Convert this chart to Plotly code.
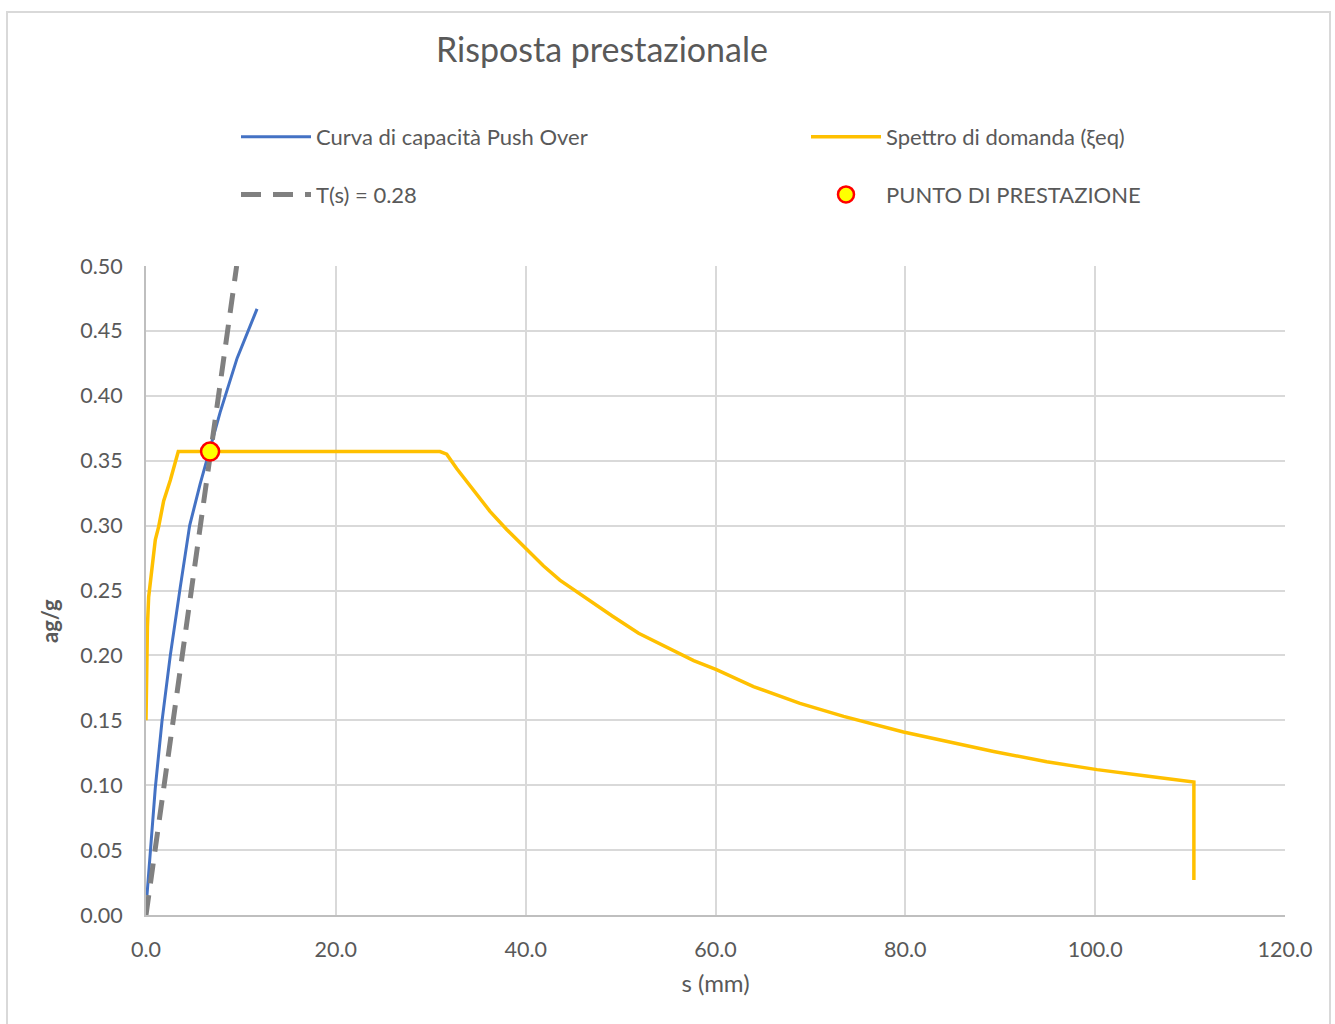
import plotly.graph_objects as go

# Capacity curve (push-over), displacement in mm vs spectral acceleration ag/g
cap_s = [0.1, 0.98, 1.68, 2.56, 3.6, 4.6, 5.7, 6.77, 7.8, 9.6, 11.7]
cap_a = [0.015, 0.098, 0.149, 0.200, 0.252, 0.300, 0.332, 0.359, 0.387, 0.429, 0.467]

# Demand spectrum with equivalent damping
dem_s = [0.0, 0.05, 0.15, 0.28, 0.63, 0.98, 1.33, 1.86, 2.56, 3.4, 30.97, 31.68, 32.73,
         34.48, 36.24, 38.0, 40.1, 41.86, 43.6, 45.4, 47.1, 49.2, 51.9, 54.9, 57.7,
         60.1, 62.6, 64.0, 68.9, 73.5, 79.8, 83.6, 89.3, 94.9, 100.2, 105.4, 110.4, 110.4]
dem_a = [0.150, 0.190, 0.222, 0.245, 0.265, 0.289, 0.299, 0.319, 0.335, 0.357, 0.357,
         0.355, 0.344, 0.327, 0.311, 0.297, 0.282, 0.269, 0.258, 0.249, 0.240, 0.230,
         0.217, 0.206, 0.196, 0.189, 0.181, 0.176, 0.163, 0.153, 0.141, 0.135, 0.126,
         0.118, 0.112, 0.107, 0.1025, 0.027]

# Elastic line for period T = 0.28 s
per_s = [0.0, 9.55]
per_a = [0.0, 0.50]

# Performance point
pp_s = [6.75]
pp_a = [0.357]

GRAY_TXT = "#595959"
FONT = "Lato"

fig = go.Figure()

fig.add_trace(go.Scatter(
    x=cap_s, y=cap_a, mode="lines", name="Curva di capacità Push Over",
    line=dict(color="#4472C4", width=3), legend="legend", legendgroup="a"))
fig.add_trace(go.Scatter(
    x=per_s, y=per_a, mode="lines", name="T(s) = 0.28",
    line=dict(color="#808080", width=5, dash="20px,12px"), legend="legend", legendgroup="b"))
fig.add_trace(go.Scatter(
    x=dem_s, y=dem_a, mode="lines", name="Spettro di domanda (ξeq)",
    line=dict(color="#FFC000", width=3.5), legend="legend2", legendgroup="c"))
fig.add_trace(go.Scatter(
    x=pp_s, y=pp_a, mode="markers", name="PUNTO DI PRESTAZIONE",
    marker=dict(color="#FFFF00", size=18, line=dict(color="#FF0000", width=2.5)),
    legend="legend2", legendgroup="d"))

axis_common = dict(
    showgrid=True, gridcolor="#d9d9d9", gridwidth=2,
    zeroline=False, showline=True, linecolor="#bfbfbf", linewidth=2,
    ticks="", tickfont=dict(family=FONT, size=21.5, color=GRAY_TXT),
)

legend_common = dict(
    xanchor="left", yanchor="top", traceorder="grouped", tracegroupgap=26, itemwidth=70,
    font=dict(family=FONT, size=22, color=GRAY_TXT), bgcolor="rgba(0,0,0,0)",
)

fig.update_layout(
    width=1335, height=1024,
    margin=dict(l=146, r=50, t=266, b=109),
    paper_bgcolor="white", plot_bgcolor="white",
    font=dict(family=FONT, color=GRAY_TXT),
    title=dict(text="Risposta prestazionale", x=602 / 1335, xanchor="center",
               y=1 - 50 / 1024, yanchor="middle",
               font=dict(family=FONT, size=34, color=GRAY_TXT)),
    xaxis=dict(range=[0, 120], dtick=20, tickformat=".1f", ticklabelstandoff=14,
               title=dict(text="s (mm)", font=dict(family=FONT, size=24, color=GRAY_TXT), standoff=14),
               **axis_common),
    yaxis=dict(range=[0, 0.5], dtick=0.05, tickformat=".2f", ticklabelstandoff=17,
               **axis_common),
    legend=dict(x=(236 - 146) / 1139, y=(915 - 116) / 649, **legend_common),
    legend2=dict(x=(806 - 146) / 1139, y=(915 - 116) / 649, **legend_common),
    showlegend=True,
)

# Vertical axis title, placed slightly below the plot's mid-height
fig.add_annotation(text="<b>ag/g</b>", xref="paper", yref="paper",
                   x=(49 - 146) / 1139, y=(915 - 621) / 649, xanchor="center", yanchor="middle",
                   textangle=-90, showarrow=False,
                   font=dict(family=FONT, size=22, color=GRAY_TXT))

# Outer chart frame
fig.add_shape(type="rect", xref="paper", yref="paper",
              x0=(7 - 146) / 1139, x1=(1330 - 146) / 1139,
              y0=(915 - 1040) / 649, y1=(915 - 12) / 649,
              line=dict(color="#d9d9d9", width=2), fillcolor="rgba(0,0,0,0)", layer="below")

fig.write_html("out.html")
